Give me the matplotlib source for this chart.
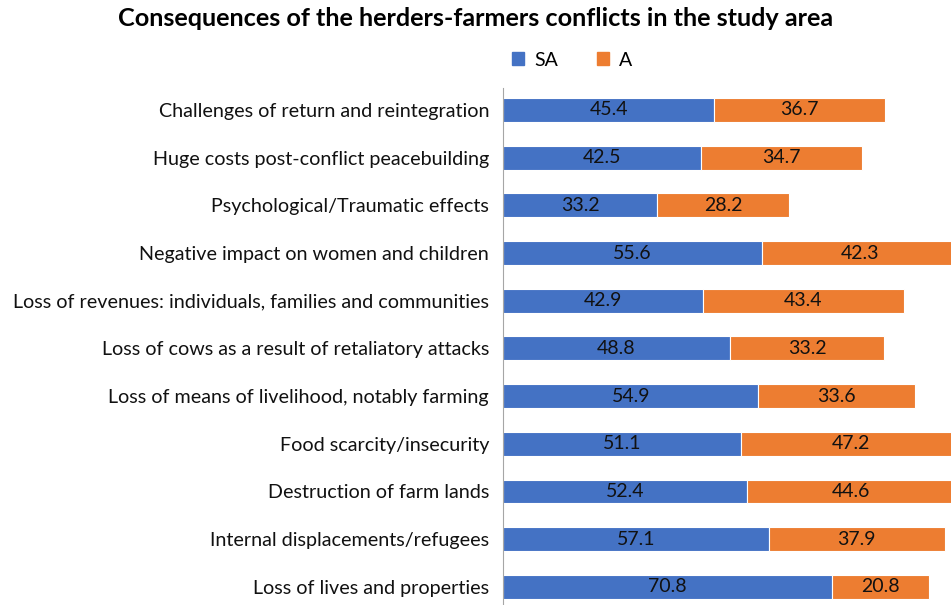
import numpy as np
import matplotlib.pyplot as plt
from matplotlib.patches import Patch

plt.rcParams['font.family'] = ['Lato', 'DejaVu Sans']

categories = [
    "Challenges of return and reintegration",
    "Huge costs post-conflict peacebuilding",
    "Psychological/Traumatic effects",
    "Negative impact on women and children",
    "Loss of revenues: individuals, families and communities",
    "Loss of cows as a result of retaliatory attacks",
    "Loss of means of livelihood, notably farming",
    "Food scarcity/insecurity",
    "Destruction of farm lands",
    "Internal displacements/refugees",
    "Loss of lives and properties",
]
sa = [45.4, 42.5, 33.2, 55.6, 42.9, 48.8, 54.9, 51.1, 52.4, 57.1, 70.8]
a = [36.7, 34.7, 28.2, 42.3, 43.4, 33.2, 33.6, 47.2, 44.6, 37.9, 20.8]

blue = '#4472C4'
orange = '#ED7D31'

fig = plt.figure(figsize=(9.51, 6.05), dpi=100)
ax = fig.add_axes([503 / 951, 0, 1 - 503 / 951, 1 - 88 / 605])

y = np.arange(len(categories))
ax.barh(y, sa, height=0.5, color=blue, edgecolor='white', linewidth=0.8)
ax.barh(y, a, left=sa, height=0.5, color=orange, edgecolor='white', linewidth=0.8)

for i in range(len(categories)):
    ax.text(sa[i] / 2, y[i], f"{sa[i]:.1f}", ha='center', va='center', fontsize=14, color='#111111')
    ax.text(sa[i] + a[i] / 2, y[i], f"{a[i]:.1f}", ha='center', va='center', fontsize=14, color='#111111')

ax.set_xlim(0, 96.3)
ax.set_ylim(10.38, -0.46)
ax.set_yticks(y)
ax.set_yticklabels(categories, fontsize=14.2, color='#111111')
ax.tick_params(axis='y', length=0, pad=10)
ax.set_xticks([])
for s in ['top', 'right', 'bottom']:
    ax.spines[s].set_visible(False)
ax.spines['left'].set_color('#A6A6A6')

fig.text(0.5, 1 - 18 / 605, "Consequences of the herders-farmers conflicts in the study area",
         ha='center', va='center', fontsize=18.2, fontweight='bold')

handles = [Patch(color=blue, label='SA'), Patch(color=orange, label='A')]
fig.legend(handles=handles, loc='center', bbox_to_anchor=(572 / 951, 1 - 60 / 605), ncol=2,
           frameon=False, fontsize=14, handlelength=0.65, handleheight=0.65, columnspacing=2.0,
           handletextpad=0.5)

fig.savefig('out.png', dpi=100)
